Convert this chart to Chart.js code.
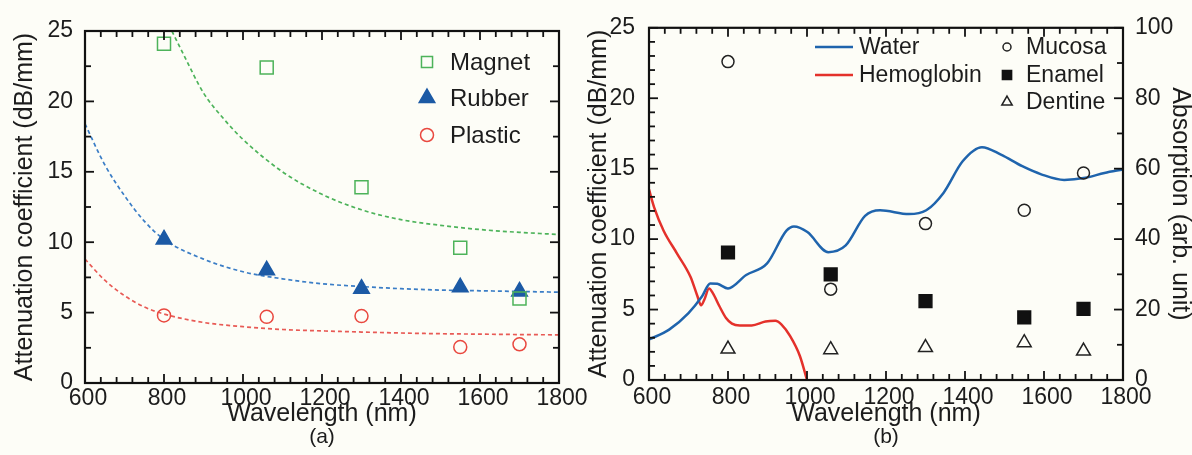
<!DOCTYPE html>
<html>
<head>
<meta charset="utf-8">
<script src="https://cdn.jsdelivr.net/npm/chart.js@4.4.1/dist/chart.umd.min.js"></script>
<style>
  html, body { margin: 0; padding: 0; background: #fdfdf7; }
  body { width: 1192px; height: 455px; position: relative; overflow: hidden; }
  .box { position: absolute; top: 0; height: 455px; }
  #boxA { left: 0; width: 596px; }
  #boxB { left: 580px; width: 612px; }
</style>
</head>
<body>
<div class="box" id="boxA"><canvas id="chartA" width="596" height="455"></canvas></div>
<div class="box" id="boxB"><canvas id="chartB" width="612" height="455"></canvas></div>
<script>
// tick labels
const wlTicks = [600, 800, 1000, 1200, 1400, 1600, 1800];
const attTicks = [0, 5, 10, 15, 20, 25];
const absTicks = [0, 20, 40, 60, 80, 100];

// panel (a): measured points (dB/mm)
const sampleWl = [800, 1060, 1300, 1550, 1700];
const magnetVals = [24.1, 22.4, 13.9, 9.6, 6.0];
const rubberVals = [10.2, 8.0, 6.7, 6.8, 6.5];
const plasticVals = [4.8, 4.7, 4.75, 2.55, 2.75];

// panel (a): dashed fit curves
const magnetFitWl = [820, 850, 900, 950, 1000, 1100, 1200, 1300, 1400, 1500, 1600, 1700, 1800];
const magnetFit = [25, 23.3, 20.6, 18.8, 17.3, 15.0, 13.4, 12.3, 11.6, 11.2, 10.9, 10.7, 10.55];
const fitWl = [600, 650, 700, 750, 800, 900, 1000, 1100, 1200, 1300, 1400, 1500, 1600, 1700, 1800];
const rubberFit = [18.4, 15.5, 13.3, 11.5, 10.2, 8.8, 7.9, 7.4, 7.05, 6.85, 6.7, 6.6, 6.55, 6.5, 6.45];
const plasticFit = [8.8, 7.3, 6.2, 5.4, 4.9, 4.3, 4.0, 3.8, 3.7, 3.62, 3.55, 3.5, 3.47, 3.44, 3.42];

// panel (b): tissues (dB/mm)
const tissueWl = [800, 1060, 1300, 1550, 1700];
const mucosaVals = [22.6, 6.45, 11.1, 12.05, 14.7];
const enamelVals = [9.05, 7.5, 5.6, 4.45, 5.05];
const dentineVals = [2.2, 2.15, 2.3, 2.65, 2.05];

// panel (b): absorption spectra (arb. unit)
const waterWl = [600, 651, 700, 734, 755, 773, 800, 846, 899, 948, 967, 1001, 1054, 1098, 1147, 1185, 1258, 1302, 1346, 1394, 1443, 1491, 1545, 1593, 1651, 1705, 1753, 1800];
const waterAbs = [11.5, 14.3, 19.0, 23.7, 27.4, 27.3, 26.0, 29.8, 33.1, 42.4, 43.6, 42.0, 36.3, 38.2, 46.6, 48.2, 47.1, 48.2, 53.2, 62.1, 66.1, 64.0, 60.7, 58.4, 56.8, 57.4, 58.8, 59.8];
const hbWl = [600, 613, 637, 671, 705, 722, 732, 740, 752, 762, 778, 795, 810, 830, 860, 895, 920, 935, 957, 982, 1000];
const hbAbs = [54.1, 49.0, 42.4, 35.9, 29.3, 24.0, 21.2, 22.8, 26.0, 24.6, 21.0, 17.6, 16.0, 15.5, 15.5, 16.6, 16.8, 15.8, 12.5, 6.8, 0];

const pts = (xs, ys) => xs.map((x, i) => ({x, y: ys[i]}));
const setTicks = (list) => (scale) => { scale.ticks = list.map((v) => ({value: v})); };
const plain = (v) => String(v); // no thousands separator

Chart.defaults.font.family = '"Liberation Sans", Arial, sans-serif';
Chart.defaults.color = '#1c1c1c';

const GREEN = '#4db35a';
const BLUE = '#1c5aa5';
const BLUE_FIT = '#3a7dc6';
const RED = '#e9483f';
const RED_FIT = '#e85a55';

// inward ticks + box around the plot
const framePlugin = {
  id: 'frame',
  afterDatasetsDraw(chart, args, opts) {
    const {ctx, chartArea: a, scales} = chart;
    const isMul = (v, m) => Math.abs(v / m - Math.round(v / m)) < 1e-6;
    const line = (x1, y1, x2, y2) => {
      ctx.beginPath();
      ctx.moveTo(x1, y1);
      ctx.lineTo(x2, y2);
      ctx.stroke();
    };
    ctx.save();
    ctx.strokeStyle = '#111';
    ctx.lineWidth = 1.8;
    ctx.setLineDash([]);

    const xs = scales.x;
    for (let v = xs.min; v <= xs.max + 1e-6; v += opts.x.minor) {
      const p = xs.getPixelForValue(v);
      const len = isMul(v, opts.x.major) ? 9 : 6;
      line(p, a.bottom, p, a.bottom - len);
      line(p, a.top, p, a.top + len);
    }
    const ys = scales.y;
    for (let v = ys.min; v <= ys.max + 1e-6; v += opts.y.minor) {
      const p = ys.getPixelForValue(v);
      const len = isMul(v, opts.y.major) ? 9 : 6;
      line(a.left, p, a.left + len, p);
      if (opts.y.mirror) line(a.right, p, a.right - len, p);
    }
    if (opts.y2) {
      const y2 = scales.y2;
      for (let v = y2.min; v <= y2.max + 1e-6; v += opts.y2.minor) {
        const p = y2.getPixelForValue(v);
        const len = isMul(v, opts.y2.major) ? 9 : 6;
        line(a.right, p, a.right - len, p);
      }
    }
    ctx.lineWidth = 2.2;
    ctx.strokeRect(a.left, a.top, a.width, a.height);
    ctx.restore();
  },
};

// hand placed legend, styles taken from the datasets
const keyPlugin = {
  id: 'key',
  afterDraw(chart, args, opts) {
    const {ctx} = chart;
    ctx.save();
    ctx.font = opts.font;
    ctx.textBaseline = 'middle';
    opts.items.forEach((it) => {
      const ds = chart.data.datasets[it.index];
      if (it.line) {
        ctx.strokeStyle = ds.borderColor;
        ctx.lineWidth = ds.borderWidth;
        ctx.setLineDash([]);
        ctx.beginPath();
        ctx.moveTo(it.x - it.line / 2, it.y);
        ctx.lineTo(it.x + it.line / 2, it.y);
        ctx.stroke();
      } else {
        ctx.strokeStyle = ds.pointBorderColor;
        ctx.fillStyle = ds.pointBackgroundColor;
        ctx.lineWidth = ds.pointBorderWidth;
        Chart.helpers.drawPoint(ctx, {
          pointStyle: ds.pointStyle, radius: it.r, rotation: 0, borderWidth: ds.pointBorderWidth,
        }, it.x, it.y);
      }
      ctx.fillStyle = opts.color;
      ctx.fillText(ds.label, it.tx, it.y + 1);
    });
    ctx.restore();
  },
};

const tickFont = {size: 23};
const titleFont = {size: 25, lineHeight: 1};

const markers = (label, data, style, radius, stroke, fill, order) => ({
  label,
  data,
  pointStyle: style,
  pointRadius: radius,
  pointBorderColor: stroke,
  pointBackgroundColor: fill,
  pointBorderWidth: 1.5,
  showLine: false,
  order,
});

const curve = (label, data, color, width, dash, axis) => ({
  label,
  data,
  showLine: true,
  borderColor: color,
  borderWidth: width,
  borderDash: dash,
  pointRadius: 0,
  fill: false,
  cubicInterpolationMode: 'monotone',
  yAxisID: axis,
  order: 5,
});

new Chart(document.getElementById('chartA'), {
  type: 'scatter',
  data: {
    datasets: [
      markers('Magnet', pts(sampleWl, magnetVals), 'rect', 9.2, GREEN, 'rgba(0,0,0,0)', 0),
      markers('Rubber', pts(sampleWl, rubberVals), 'triangle', 9, BLUE, BLUE, 1),
      markers('Plastic', pts(sampleWl, plasticVals), 'circle', 6.5, RED, 'rgba(0,0,0,0)', 2),
      curve('Magnet fit', pts(magnetFitWl, magnetFit), GREEN, 1.7, [4, 3], 'y'),
      curve('Rubber fit', pts(fitWl, rubberFit), BLUE_FIT, 1.7, [4, 3], 'y'),
      curve('Plastic fit', pts(fitWl, plasticFit), RED_FIT, 1.7, [4, 3], 'y'),
    ],
  },
  options: {
    responsive: false,
    animation: false,
    devicePixelRatio: 1,
    layout: {padding: {top: 31, right: 37, left: 0, bottom: 0}, autoPadding: false},
    plugins: {
      legend: {display: false},
      tooltip: {enabled: false},
      title: {
        display: true, text: '(a)', position: 'bottom', fullSize: false,
        font: {size: 21, weight: 'normal', lineHeight: 1}, padding: {top: 0, bottom: 7}, color: '#1c1c1c',
      },
      frame: {x: {minor: 40, major: 200}, y: {minor: 2.5, major: 5, mirror: true}},
      key: {
        font: '24px "Liberation Sans", Arial, sans-serif',
        color: '#1c1c1c',
        items: [
          {index: 0, x: 427, y: 62, r: 9.2 * 0.85, tx: 450},
          {index: 1, x: 427, y: 98, r: 9, tx: 450},
          {index: 2, x: 427, y: 135, r: 6.5, tx: 450},
        ],
      },
    },
    scales: {
      x: {
        type: 'linear', min: 600, max: 1800,
        afterBuildTicks: setTicks(wlTicks),
        afterFit: (s) => { s.height = 44; },
        grid: {display: false, drawTicks: false},
        border: {display: false},
        ticks: {font: tickFont, padding: 2, maxRotation: 0, labelOffset: 3, callback: plain},
        title: {display: true, text: 'Wavelength (nm)', font: titleFont, padding: {top: 0, bottom: 0}},
      },
      y: {
        min: 0, max: 25,
        afterBuildTicks: setTicks(attTicks),
        afterFit: (s) => { s.width = 85; },
        grid: {display: false, drawTicks: false},
        border: {display: false},
        ticks: {font: tickFont, padding: 12, callback: plain},
        title: {display: true, text: 'Attenuation coefficient (dB/mm)', font: titleFont, padding: {top: 13, bottom: 0}},
      },
    },
  },
  plugins: [framePlugin, keyPlugin],
});

new Chart(document.getElementById('chartB'), {
  type: 'scatter',
  data: {
    datasets: [
      curve('Water', pts(waterWl, waterAbs), '#1f64ad', 2.5, [], 'y2'),
      curve('Hemoglobin', pts(hbWl, hbAbs), '#e4312b', 2.5, [], 'y2'),
      markers('Mucosa', pts(tissueWl, mucosaVals), 'circle', 6, '#222', 'rgba(0,0,0,0)', 0),
      markers('Enamel', pts(tissueWl, enamelVals), 'rect', 9, '#111', '#111', 0),
      markers('Dentine', pts(tissueWl, dentineVals), 'triangle', 8, '#222', 'rgba(0,0,0,0)', 0),
    ],
  },
  options: {
    responsive: false,
    animation: false,
    devicePixelRatio: 1,
    layout: {padding: {top: 26, right: 0, left: 0, bottom: 0}, autoPadding: false},
    plugins: {
      legend: {display: false},
      tooltip: {enabled: false},
      title: {
        display: true, text: '(b)', position: 'bottom', fullSize: false,
        font: {size: 21, weight: 'normal', lineHeight: 1}, padding: {top: 0, bottom: 7}, color: '#1c1c1c',
      },
      frame: {x: {minor: 40, major: 200}, y: {minor: 1, major: 5, mirror: false}, y2: {minor: 10, major: 20}},
      key: {
        font: '23px "Liberation Sans", Arial, sans-serif',
        color: '#1c1c1c',
        items: [
          {index: 0, x: 254, y: 47, line: 38, tx: 279},
          {index: 1, x: 254, y: 75, line: 38, tx: 279},
          {index: 2, x: 427, y: 47, r: 4, tx: 446},
          {index: 3, x: 427, y: 75, r: 6.5, tx: 446},
          {index: 4, x: 427, y: 102, r: 6, tx: 446},
        ],
      },
    },
    scales: {
      x: {
        type: 'linear', min: 600, max: 1800,
        afterBuildTicks: setTicks(wlTicks),
        afterFit: (s) => { s.height = 47; },
        grid: {display: false, drawTicks: false},
        border: {display: false},
        ticks: {font: tickFont, padding: 4, maxRotation: 0, labelOffset: 3, callback: plain},
        title: {display: true, text: 'Wavelength (nm)', font: titleFont, padding: {top: 0, bottom: 0}},
      },
      y: {
        min: 0, max: 25,
        afterBuildTicks: setTicks(attTicks),
        afterFit: (s) => { s.width = 69; },
        grid: {display: false, drawTicks: false},
        border: {display: false},
        ticks: {font: tickFont, padding: 14, callback: plain},
        title: {display: true, text: 'Attenuation coefficient (dB/mm)', font: titleFont, padding: {top: 7, bottom: 0}},
      },
      y2: {
        position: 'right', min: 0, max: 100,
        afterBuildTicks: setTicks(absTicks),
        afterFit: (s) => { s.width = 69; },
        grid: {display: false, drawTicks: false},
        border: {display: false},
        ticks: {font: tickFont, padding: 12, callback: plain},
        title: {display: true, text: 'Absorption (arb. unit)', font: titleFont, padding: {top: 0, bottom: 0}},
      },
    },
  },
  plugins: [framePlugin, keyPlugin],
});
</script>
</body>
</html>
